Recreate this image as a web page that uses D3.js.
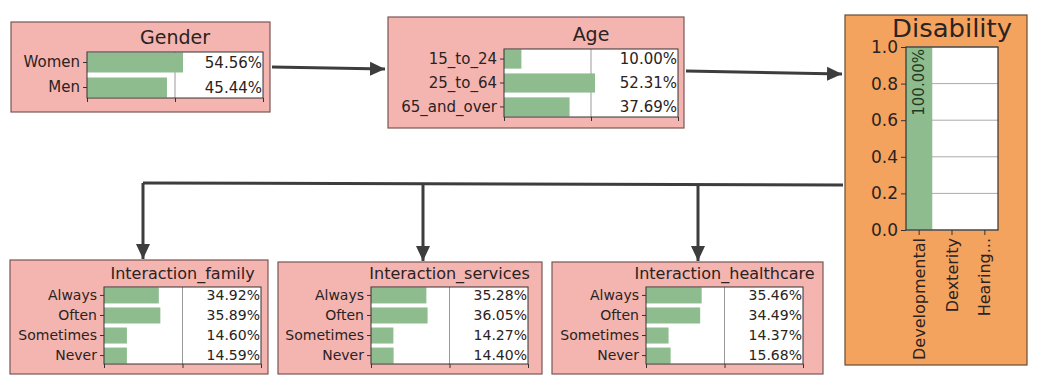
<!DOCTYPE html>
<html>
<head>
<meta charset="utf-8">
<script src="https://cdn.jsdelivr.net/npm/d3@7"></script>
<style>
  body { margin: 0; background: #fff; }
  svg { display: block; font-family: "DejaVu Sans", sans-serif; }
</style>
</head>
<body>
<div id="net"></div>
<script>
// node states and marginal probabilities
var genderCats = ["Women", "Men"];
var genderVals = [0.5456, 0.4544];

var ageCats = ["15_to_24", "25_to_64", "65_and_over"];
var ageVals = [0.1000, 0.5231, 0.3769];

var disabilityCats = ["Developmental", "Dexterity", "Hearing..."];
var disabilityVals = [1.0, 0, 0];
var disabilityTicks = [0, 0.2, 0.4, 0.6, 0.8, 1.0];

var freqCats = ["Always", "Often", "Sometimes", "Never"];
var familyVals = [0.3492, 0.3589, 0.1460, 0.1459];
var servicesVals = [0.3528, 0.3605, 0.1427, 0.1440];
var healthcareVals = [0.3546, 0.3449, 0.1437, 0.1568];

var W = 1043, H = 385;
var pink = "#f4b5b0", orange = "#f4a35e", green = "#8fbc8f", ink = "#2b2222";

var svg = d3.select("#net").append("svg")
    .attr("width", W)
    .attr("height", H);

svg.append("defs").append("marker")
    .attr("id", "arrow")
    .attr("markerUnits", "userSpaceOnUse")
    .attr("markerWidth", 16)
    .attr("markerHeight", 16)
    .attr("refX", 15)
    .attr("refY", 8)
    .attr("orient", "auto")
  .append("path")
    .attr("d", "M0,1 L15,8 L0,15 Z")
    .attr("fill", "#3d3d3d");

// edges (layout only)
var edges = [
  {x1: 272, y1: 67, x2: 385, y2: 69, arrow: true},
  {x1: 686, y1: 71, x2: 842, y2: 74, arrow: true},
  {x1: 843, y1: 185, x2: 143, y2: 183, arrow: false},
  {x1: 143, y1: 183, x2: 143, y2: 259, arrow: true},
  {x1: 423, y1: 184, x2: 423, y2: 261, arrow: true},
  {x1: 698, y1: 184, x2: 698, y2: 261, arrow: true}
];

svg.append("g").selectAll("line")
    .data(edges)
    .enter().append("line")
    .attr("x1", function(d) { return d.x1; })
    .attr("y1", function(d) { return d.y1; })
    .attr("x2", function(d) { return d.x2; })
    .attr("y2", function(d) { return d.y2; })
    .attr("stroke", "#3d3d3d")
    .attr("stroke-width", 3)
    .attr("marker-end", function(d) { return d.arrow ? "url(#arrow)" : null; });

function pct(v) { return (v * 100).toFixed(2) + "%"; }

// horizontal bar node
function hNode(title, cats, vals, box, plot, fs, tfs) {
  var g = svg.append("g");

  g.append("rect")
      .attr("x", box.x).attr("y", box.y)
      .attr("width", box.w).attr("height", box.h)
      .attr("fill", pink)
      .attr("stroke", "#7a5555")
      .attr("stroke-width", 1.2);

  var x = d3.scaleLinear().domain([0, 1]).range([plot.x, plot.x + plot.w]);
  var y = d3.scaleBand().domain(cats).range([plot.y, plot.y + plot.h]).paddingInner(0.2).paddingOuter(0.02);

  g.append("rect")
      .attr("x", plot.x).attr("y", plot.y)
      .attr("width", plot.w).attr("height", plot.h)
      .attr("fill", "#fff");

  // midline grid
  g.append("line")
      .attr("x1", x(0.5)).attr("x2", x(0.5))
      .attr("y1", plot.y).attr("y2", plot.y + plot.h)
      .attr("stroke", "#999").attr("stroke-width", 1);

  g.selectAll(".bar")
      .data(vals)
      .enter().append("rect")
      .attr("x", x(0))
      .attr("y", function(d, i) { return y(cats[i]); })
      .attr("width", function(d) { return x(d) - x(0); })
      .attr("height", y.bandwidth())
      .attr("fill", green);

  g.selectAll(".val")
      .data(vals)
      .enter().append("text")
      .attr("x", plot.x + plot.w - 1)
      .attr("y", function(d, i) { return y(cats[i]) + y.bandwidth() / 2; })
      .attr("dy", "0.35em")
      .attr("text-anchor", "end")
      .attr("font-size", fs)
      .attr("fill", ink)
      .text(pct);

  var ya = g.append("g")
      .attr("transform", "translate(" + plot.x + ",0)")
      .call(d3.axisLeft(y).tickSize(4).tickPadding(3));
  ya.select(".domain").remove();
  ya.selectAll("text").attr("font-size", fs).attr("fill", ink).attr("font-family", "DejaVu Sans");
  ya.selectAll("line").attr("stroke", "#333");

  var xa = g.append("g")
      .attr("transform", "translate(0," + (plot.y + plot.h) + ")")
      .call(d3.axisBottom(x).tickValues([0, 0.5, 1]).tickSize(4).tickFormat(""));
  xa.select(".domain").remove();
  xa.selectAll("line").attr("stroke", "#333");

  g.append("rect")
      .attr("x", plot.x).attr("y", plot.y)
      .attr("width", plot.w).attr("height", plot.h)
      .attr("fill", "none")
      .attr("stroke", "#333")
      .attr("stroke-width", 1);

  g.append("text")
      .attr("x", plot.x + plot.w / 2)
      .attr("y", plot.y - 8)
      .attr("text-anchor", "middle")
      .attr("font-size", tfs)
      .attr("fill", ink)
      .text(title);
}

hNode("Gender", genderCats, genderVals,
  {x: 11, y: 22, w: 259, h: 90}, {x: 87, y: 52, w: 176, h: 46}, 15, 19);
hNode("Age", ageCats, ageVals,
  {x: 388, y: 17, w: 296, h: 111}, {x: 504, y: 49, w: 174, h: 68}, 15, 19);
hNode("Interaction_family", freqCats, familyVals,
  {x: 10, y: 260, w: 258, h: 114}, {x: 104, y: 287, w: 157, h: 77}, 14, 16);
hNode("Interaction_services", freqCats, servicesVals,
  {x: 278, y: 262, w: 264, h: 112}, {x: 371, y: 287, w: 157, h: 77}, 14, 16);
hNode("Interaction_healthcare", freqCats, healthcareVals,
  {x: 552, y: 262, w: 271, h: 112}, {x: 646, y: 287, w: 157, h: 77}, 14, 16);

// Disability: vertical bars
(function() {
  var box = {x: 845, y: 15, w: 182, h: 350};
  var plot = {x: 906, y: 47, w: 92, h: 183};
  var g = svg.append("g");

  g.append("rect")
      .attr("x", box.x).attr("y", box.y)
      .attr("width", box.w).attr("height", box.h)
      .attr("fill", orange)
      .attr("stroke", "#6b4a30")
      .attr("stroke-width", 1.2);

  var x = d3.scaleBand().domain(disabilityCats).range([plot.x, plot.x + plot.w]).paddingInner(0.2).paddingOuter(0);
  var y = d3.scaleLinear().domain([0, 1]).range([plot.y + plot.h, plot.y]);

  g.append("rect")
      .attr("x", plot.x).attr("y", plot.y)
      .attr("width", plot.w).attr("height", plot.h)
      .attr("fill", "#fff");

  g.selectAll(".grid")
      .data(disabilityTicks)
      .enter().append("line")
      .attr("x1", plot.x).attr("x2", plot.x + plot.w)
      .attr("y1", function(d) { return y(d); })
      .attr("y2", function(d) { return y(d); })
      .attr("stroke", "#aaa").attr("stroke-width", 1);

  g.selectAll(".bar")
      .data(disabilityVals)
      .enter().append("rect")
      .attr("x", function(d, i) { return x(disabilityCats[i]); })
      .attr("y", function(d) { return y(d); })
      .attr("width", x.bandwidth())
      .attr("height", function(d) { return y(0) - y(d); })
      .attr("fill", green);

  g.selectAll(".val")
      .data(disabilityVals.filter(function(d) { return d > 0; }))
      .enter().append("text")
      .attr("transform", function(d, i) {
        return "translate(" + (x(disabilityCats[i]) + x.bandwidth() / 2) + "," + (y(d) + 2) + ") rotate(-90)";
      })
      .attr("dy", "0.35em")
      .attr("text-anchor", "end")
      .attr("font-size", 15)
      .attr("fill", "#1f3a1f")
      .text(pct);

  var ya = g.append("g")
      .attr("transform", "translate(" + plot.x + ",0)")
      .call(d3.axisLeft(y).tickValues(disabilityTicks).tickFormat(d3.format(".1f")).tickSize(5).tickPadding(3));
  ya.select(".domain").remove();
  ya.selectAll("text").attr("font-size", 17).attr("fill", ink).attr("font-family", "DejaVu Sans");
  ya.selectAll("line").attr("stroke", "#333");

  var xa = g.append("g")
      .attr("transform", "translate(0," + (plot.y + plot.h) + ")")
      .call(d3.axisBottom(x).tickSize(5).tickPadding(3));
  xa.select(".domain").remove();
  xa.selectAll("line").attr("stroke", "#333");
  xa.selectAll("text")
      .attr("font-size", 16)
      .attr("fill", ink)
      .attr("font-family", "DejaVu Sans")
      .attr("text-anchor", "end")
      .attr("transform", "rotate(-90)")
      .attr("x", -8)
      .attr("y", 0)
      .attr("dy", "0.35em");

  g.append("rect")
      .attr("x", plot.x).attr("y", plot.y)
      .attr("width", plot.w).attr("height", plot.h)
      .attr("fill", "none")
      .attr("stroke", "#333")
      .attr("stroke-width", 1.2);

  g.append("text")
      .attr("x", plot.x + plot.w / 2)
      .attr("y", plot.y - 10)
      .attr("text-anchor", "middle")
      .attr("font-size", 24)
      .attr("fill", ink)
      .attr("textLength", 120)
      .attr("lengthAdjust", "spacingAndGlyphs")
      .text("Disability");
})();
</script>
</body>
</html>
